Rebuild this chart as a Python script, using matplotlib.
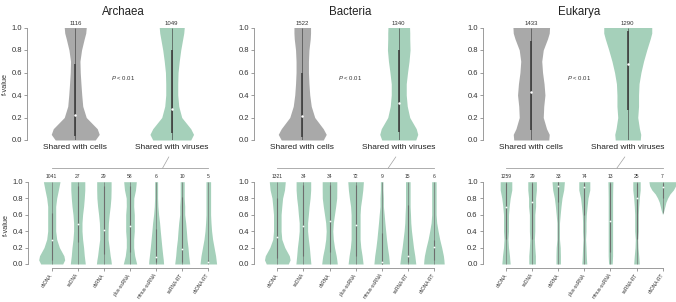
import numpy as np
import matplotlib
matplotlib.use('Agg')
import matplotlib.pyplot as plt
from matplotlib.patches import ConnectionPatch

plt.rcParams['font.family'] = ['Liberation Sans', 'DejaVu Sans']
plt.rcParams['mathtext.fontset'] = 'custom'
plt.rcParams['mathtext.it'] = 'Liberation Sans:italic'
plt.rcParams['mathtext.rm'] = 'Liberation Sans'

domains = ['Archaea', 'Bacteria', 'Eukarya']
groups = ['Shared with cells', 'Shared with viruses']
genomes = ['dsDNA', 'ssDNA', 'dsRNA', 'plus-ssRNA', 'minus-ssRNA', 'ssRNA-RT', 'dsDNA-RT']

# f-value levels at which the violin half-widths were read (pixels)
y_top = [0, .05, .1, .2, .3, .4, .5, .6, .7, .8, .9, .95, 1.0]
y_bot = [0, .05, .1, .2, .3, .4, .5, .6, .7, .8, .9, 1.0]

# top row: cells vs viruses
top_counts = [[1116, 1049], [1522, 1340], [1433, 1290]]
top_median = [[0.22, 0.28], [0.21, 0.33], [0.43, 0.68]]
top_iqr = [[(0.04, 0.68), (0.06, 0.80)],
           [(0.03, 0.60), (0.07, 0.80)],
           [(0.09, 0.88), (0.27, 0.97)]]
top_width = [
    [[20, 24, 22, 11, 7.5, 6.5, 5.7, 5, 4.7, 6.3, 9, 10.5, 11],
     [19, 21.8, 19, 10, 7, 6, 6, 6.3, 7.5, 9, 11, 12, 12.5]],
    [[21, 24, 21, 12.5, 9, 7.5, 6.7, 6.2, 6.2, 6.7, 8, 8.3, 8.3],
     [17, 19, 17.5, 11, 8.5, 7.5, 7.5, 8.8, 10.3, 11.3, 11, 11, 10.8]],
    [[17.5, 18, 15.3, 12, 12.5, 13.7, 12.8, 11.3, 10.5, 12, 16.3, 18, 18.3],
     [12.5, 13, 11.7, 10, 10.8, 10.8, 11.3, 13.2, 15.8, 19, 22.5, 24, 24]],
]

# bottom row: viruses split by genome type
bot_counts = [[1041, 27, 29, 58, 6, 10, 5],
              [1321, 34, 34, 72, 9, 15, 6],
              [1259, 29, 33, 74, 13, 25, 7]]
bot_median = [[0.29, 0.49, 0.41, 0.46, 0.09, 0.18, 0.03],
              [0.33, 0.46, 0.52, 0.47, 0.02, 0.10, 0.21],
              [0.69, 0.75, 0.95, 0.93, 0.52, 0.80, 0.94]]
bot_iqr = [[(0.05, 0.62), (0.27, 0.95), (0.12, 0.95), (0.15, 0.95), (0.03, 0.42), (0.02, 0.82), (0.02, 0.05)],
           [(0.07, 0.80), (0.10, 0.96), (0.15, 0.96), (0.10, 0.96), (0.0, 0.38), (0.02, 0.72), (0.05, 0.29)],
           [(0.30, 0.98), (0.30, 0.98), (0.75, 1.0), (0.60, 0.99), (0.15, 0.98), (0.30, 0.98), (0.80, 0.98)]]
bot_range = [[(0, 1)] * 7, [(0, 1)] * 7, [(0, 1)] * 6 + [(0.62, 1.0)]]
bot_width = [
    [[11, 13, 12.2, 7.7, 5, 4, 4, 4, 4, 5, 6.7, 8.3],
     [7.5, 7, 6.5, 5.8, 4.8, 4.2, 4.2, 4.8, 5.8, 6.5, 7, 7],
     [7.5, 7, 6.3, 5.3, 4.2, 4.2, 4.5, 5.3, 6.3, 7, 7.2, 7.2],
     [6.7, 5.7, 4.7, 3.7, 3.7, 4.3, 4.3, 4.3, 3.7, 3.8, 5.5, 6.3],
     [7.5, 7.2, 6.7, 5.8, 5, 4.2, 3.5, 2.5, 1.8, 1.5, 1.5, 1.5],
     [7.5, 7, 6.5, 5.8, 4.8, 4.2, 3.5, 2.5, 2.5, 2, 2, 2],
     [8.3, 7.8, 7.3, 5.8, 4.3, 3.3, 2.7, 2.3, 2.3, 2.3, 2.3, 2.3]],
    [[11, 12.8, 12, 7.5, 4.5, 3.8, 3.8, 3.8, 4.5, 5.3, 7.2, 8],
     [7.5, 7.1, 6.7, 6, 5, 4.2, 4.2, 5, 5.7, 6.7, 7.3, 7.3],
     [7.8, 7.3, 6.7, 5, 3.8, 3.3, 3.8, 5, 6.2, 7.2, 7.3, 7.3],
     [7.5, 7, 6.5, 5.2, 4.5, 4.5, 4.5, 4.5, 5, 6.2, 7.2, 7.8],
     [7.8, 7.4, 7, 5.8, 4.8, 4, 3.2, 2.5, 1.7, 1.7, 1.3, 1.3],
     [8, 7.5, 7, 5.7, 4.7, 3.7, 3, 2.7, 2.3, 2.3, 2.3, 2.3],
     [10.3, 10, 9.5, 7.8, 5.8, 4.2, 2.8, 2.2, 2.2, 2.2, 2.2, 2.2]],
    [[4.2, 3.8, 3.5, 2.5, 2, 2.5, 2.5, 2.5, 3.2, 4.2, 5.8, 5.8],
     [3.3, 3.3, 3.3, 2.7, 2.3, 2.7, 2.7, 2.7, 3.5, 3.5, 4.3, 4.3],
     [2.2, 2.2, 2.2, 2, 1.3, 1.3, 1.3, 2, 2.8, 3.8, 5.5, 6.2],
     [2.5, 2.2, 2, 1.7, 1.3, 1.7, 1.7, 2, 2.8, 3.7, 5.5, 5.5],
     [1.8, 2, 2.2, 2.2, 2.2, 2.2, 2.2, 2.2, 2.2, 2.2, 2.3, 2.5],
     [2.8, 2.5, 2.2, 1.5, 1.2, 1.8, 1.8, 1.8, 2.2, 2.8, 3.7, 3.7],
     None],
]
# Eukarya dsDNA-RT only spans the upper part
euk_dsdnart_y = [0.6, 0.65, 0.7, 0.75, 0.8, 0.85, 0.9, 0.95, 1.0]
euk_dsdnart_w = [0, 1.3, 2.3, 3.3, 5, 7.3, 10.8, 13, 13.7]

grey = '#a9a9a9'
green = '#a5d0ba'
spine_col = '#8c8c8c'
text_col = '#333333'

W, H = 676, 302
fig = plt.figure(figsize=(W / 100, H / 100), dpi=100)

top_left = [27, 254, 483]
top_px_unit = 96.5
bot_first = [51.7, 277.3, 506]
bot_px_unit = 26.1


def violin(ax, x, ys, hw, px_unit, color, med, iqr, rng, lw_iqr, ms, line_col):
    hw = np.array(hw) / px_unit
    ax.fill_betweenx(ys, x - hw, x + hw, color=color, lw=0)
    ax.plot([x, x], rng, color=line_col, lw=0.45, solid_capstyle='butt')
    ax.plot([x, x], iqr, color=line_col, lw=lw_iqr, solid_capstyle='butt')
    ax.plot(x, med, 'o', color='white', ms=ms, mec='none')


def style_axes(ax):
    for s in ['top', 'right']:
        ax.spines[s].set_visible(False)
    ax.spines['left'].set_color(spine_col)
    ax.spines['left'].set_linewidth(0.6)
    ax.spines['left'].set_bounds(0, 1)
    ax.set_yticks([0, 0.2, 0.4, 0.6, 0.8, 1.0])
    ax.set_yticklabels(['0.0', '0.2', '0.4', '0.6', '0.8', '1.0'])
    ax.tick_params(axis='y', length=2, width=0.6, color=spine_col,
                   labelsize=5.5, labelcolor=text_col, pad=1.5)


for d in range(3):
    # top panel
    axt = fig.add_axes([top_left[d] / W, (H - 140) / H,
                        2 * top_px_unit / W, 112.5 / H])
    axt.set_xlim(-0.5, 1.5)
    axt.set_ylim(0, 1)
    style_axes(axt)
    axt.spines['bottom'].set_visible(False)
    for g in range(2):
        violin(axt, g, y_top, top_width[d][g], top_px_unit,
               grey if g == 0 else green, top_median[d][g],
               top_iqr[d][g], (0, 1), 1.2, 1.8, '#3f3f3f')
        axt.text(g, 1.012, str(top_counts[d][g]), ha='center', va='bottom',
                 fontsize=4.3, color=text_col, clip_on=False)
    axt.set_xticks([0, 1])
    axt.set_xticklabels(groups)
    axt.tick_params(axis='x', length=0, labelsize=6, labelcolor='#222222', pad=3)
    axt.text(0.5, 0.55, r'$P$ < 0.01', ha='center', va='center',
             fontsize=4.3, color=text_col)
    axt.set_title(domains[d], fontsize=8.3, color='#222222', pad=9)
    if d == 0:
        axt.set_ylabel('f-value', fontsize=5.3, color=text_col, labelpad=2)

    # bottom panel
    left = bot_first[d] - 0.9 * bot_px_unit
    axb = fig.add_axes([left / W, (H - 267.7) / H,
                        7.8 * bot_px_unit / W, 86 / H])
    axb.set_xlim(-0.9, 6.9)
    axb.set_ylim(-0.045, 1.0)
    style_axes(axb)
    axb.spines['bottom'].set_color(spine_col)
    axb.spines['bottom'].set_linewidth(0.6)
    axb.spines['bottom'].set_bounds(0, 6)
    for k in range(7):
        if bot_width[d][k] is None:
            ys, hw = euk_dsdnart_y, euk_dsdnart_w
        else:
            ys, hw = y_bot, bot_width[d][k]
        violin(axb, k, ys, hw, bot_px_unit, green, bot_median[d][k],
               bot_iqr[d][k], bot_range[d][k], 0.8, 1.3, '#6e6e6e')
        axb.text(k, 1.03, str(bot_counts[d][k]), ha='center', va='bottom',
                 fontsize=3.6, color=text_col, clip_on=False)
    axb.set_xticks(range(7))
    axb.set_xticklabels(genomes, rotation=55, rotation_mode='anchor',
                        ha='right', va='center')
    axb.tick_params(axis='x', length=2, width=0.6, color=spine_col,
                    labelsize=3.5, labelcolor=text_col, pad=2.5)
    if d == 0:
        axb.set_ylabel('f-value', fontsize=5.3, color=text_col, labelpad=2)

    # bracket linking "Shared with viruses" to the genome breakdown
    axb.plot([0, 6], [1.166, 1.166], color='#a0a0a0', lw=0.6, clip_on=False)
    con = ConnectionPatch(xyA=(4.25, 1.166), coordsA=axb.transData,
                          xyB=(0.97, -0.15), coordsB=axt.transData,
                          color='#a0a0a0', lw=0.5)
    fig.add_artist(con)

fig.savefig('out.png', dpi=100)
